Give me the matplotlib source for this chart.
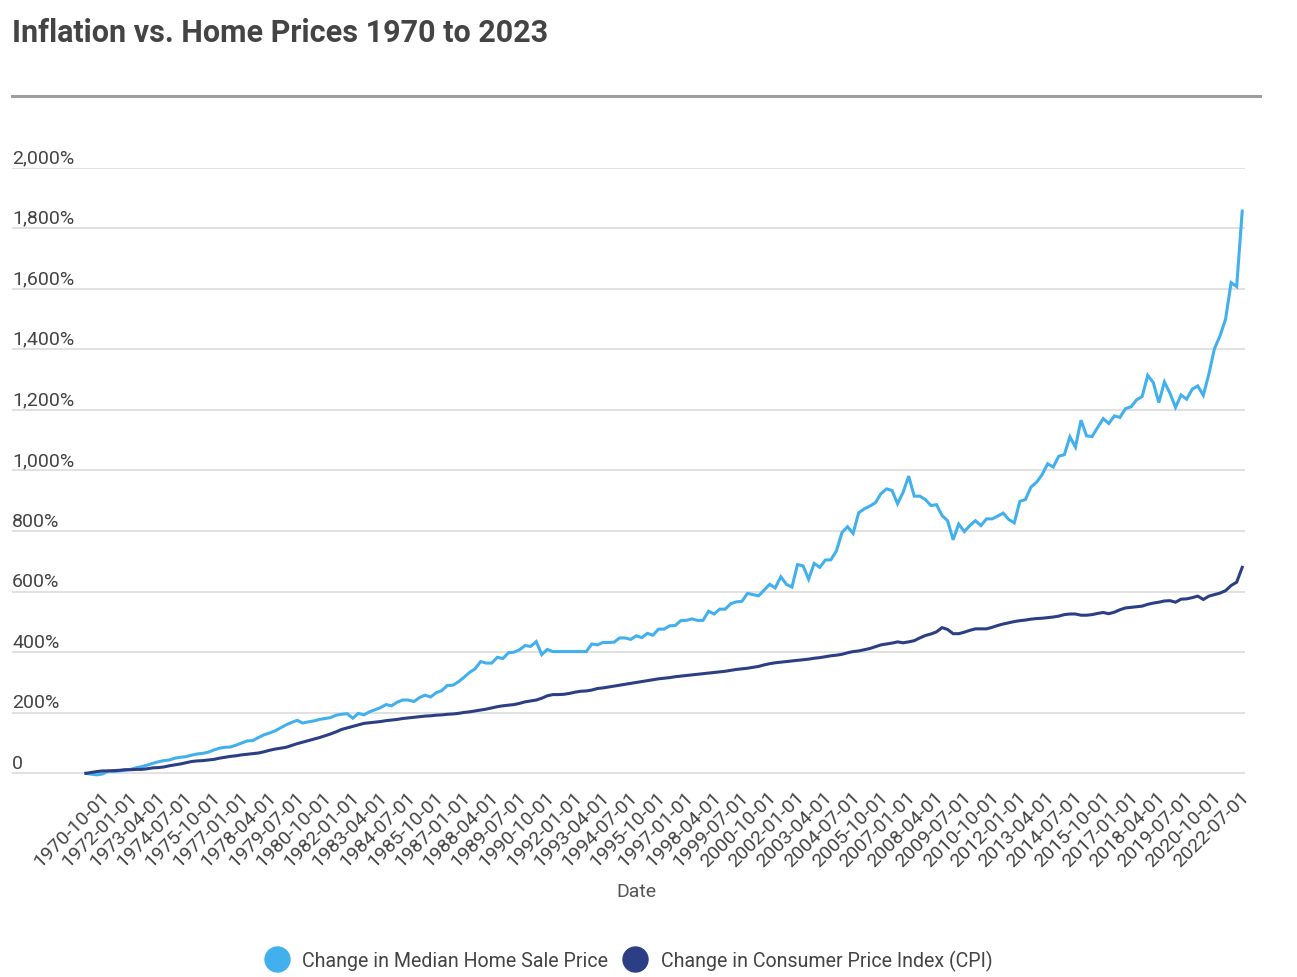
import matplotlib
matplotlib.use("Agg")
import matplotlib.pyplot as plt
from matplotlib.lines import Line2D
from matplotlib import transforms
import numpy as np

plt.rcParams['font.family'] = ['Roboto', 'DejaVu Sans']

# ---------------- data (percent change since 1970) ----------------
home_change = [
    0, -3, -5, -2, 8, 6, 8, 10, 13, 18,
    22, 27, 33, 38, 42, 44, 50, 53, 55, 60,
    64, 66, 70, 77, 83, 86, 87, 93, 100, 107,
    108, 118, 127, 133, 140, 150, 160, 168, 175, 166,
    170, 173, 178, 181, 184, 192, 195, 197, 182, 198,
    193, 203, 210, 217, 227, 223, 235, 242, 242, 237,
    250, 258, 252, 266, 273, 290, 291, 302, 317, 333,
    345, 369, 364, 364, 383, 379, 398, 400, 408, 422,
    419, 435, 392, 409, 402, 402, 402, 402, 402, 402,
    402, 427, 424, 432, 432, 433, 447, 447, 442, 454,
    448, 462, 456, 476, 476, 487, 488, 504, 505, 510,
    505, 505, 535, 526, 542, 542, 560, 566, 568, 594,
    590, 586, 605, 624, 612, 649, 624, 615, 689, 685,
    641, 693, 680, 704, 705, 734, 795, 814, 792, 860,
    873, 882, 893, 923, 939, 934, 890, 928, 981, 915,
    915, 904, 884, 887, 851, 834, 771, 823, 798, 818,
    834, 818, 840, 840, 849, 859, 838, 827, 898, 904,
    945, 961, 986, 1022, 1011, 1047, 1052, 1111, 1077, 1166,
    1114, 1112, 1142, 1171, 1155, 1180, 1175, 1204, 1210, 1233,
    1244, 1314, 1290, 1224, 1292, 1255, 1208, 1249, 1235, 1268,
    1279, 1248, 1318, 1402, 1444, 1499, 1620, 1607, 1856,
]

cpi_change = [
    0, 3, 6, 8, 8, 9, 10, 12, 12, 13,
    13, 15, 18, 19, 21, 25, 28, 31, 35, 39,
    41, 42, 44, 46, 50, 53, 56, 58, 61, 63,
    65, 67, 71, 76, 80, 83, 86, 92, 98, 103,
    108, 113, 118, 124, 130, 137, 145, 150, 155, 160,
    165, 167, 169, 171, 174, 176, 178, 181, 183, 185,
    187, 189, 190, 192, 193, 195, 196, 198, 201, 203,
    206, 209, 212, 216, 220, 223, 225, 227, 231, 236,
    239, 242, 248, 256, 260, 260, 261, 264, 268, 271,
    272, 275, 280, 282, 285, 288, 291, 294, 297, 300,
    303, 306, 309, 312, 314, 316, 319, 321, 323, 325,
    327, 329, 331, 333, 335, 337, 340, 343, 345, 347,
    350, 353, 358, 362, 365, 367, 369, 371, 373, 375,
    377, 380, 382, 385, 388, 390, 393, 398, 402, 404,
    408, 412, 418, 424, 427, 430, 434, 431, 434, 438,
    447, 455, 460, 467, 481, 475, 461, 461, 466, 472,
    477, 477, 477, 482, 488, 493, 497, 501, 504, 506,
    509, 511, 512, 514, 516, 519, 524, 526, 526, 522,
    522, 524, 528, 531, 527, 532, 540, 546, 548, 550,
    552, 558, 562, 565, 569, 570, 565, 575, 576, 580,
    585, 574, 585, 590, 595, 603, 620, 631, 680,
]

x_tick_labels = [
    "1970-10-01", "1972-01-01", "1973-04-01", "1974-07-01", "1975-10-01",
    "1977-01-01", "1978-04-01", "1979-07-01", "1980-10-01", "1982-01-01",
    "1983-04-01", "1984-07-01", "1985-10-01", "1987-01-01", "1988-04-01",
    "1989-07-01", "1990-10-01", "1992-01-01", "1993-04-01", "1994-07-01",
    "1995-10-01", "1997-01-01", "1998-04-01", "1999-07-01", "2000-10-01",
    "2002-01-01", "2003-04-01", "2004-07-01", "2005-10-01", "2007-01-01",
    "2008-04-01", "2009-07-01", "2010-10-01", "2012-01-01", "2013-04-01",
    "2014-07-01", "2015-10-01", "2017-01-01", "2018-04-01", "2019-07-01",
    "2020-10-01", "2022-07-01",
]
y_tick_values = [0, 200, 400, 600, 800, 1000, 1200, 1400, 1600, 1800, 2000]
y_tick_labels = ["0", "200%", "400%", "600%", "800%", "1,000%", "1,200%",
                 "1,400%", "1,600%", "1,800%", "2,000%"]
series_names = ["Change in Median Home Sale Price",
                "Change in Consumer Price Index (CPI)"]

# ---------------- styling ----------------
LIGHT = "#43b0ee"
DARK = "#2c3f84"
TEXT = "#444444"
GRID = "#dedede"

W, H = 1297, 978
fig = plt.figure(figsize=(W / 100, H / 100), dpi=100)

# axes placement in pixels
ax_left, ax_right = 12, 1245
y_bottom_px, y_top_px = 780.4, 168.5
ax = fig.add_axes([ax_left / W, 1 - y_bottom_px / H,
                   (ax_right - ax_left) / W, (y_bottom_px - y_top_px) / H])

x = np.arange(len(home_change))
ax.plot(x, home_change, color=LIGHT, lw=2.2, solid_joinstyle='miter', zorder=3)
ax.plot(x, cpi_change, color=DARK, lw=2.2, solid_joinstyle='miter', zorder=4)

ax.set_xlim(-13.3, 208.5)
ax.set_ylim(-20, 2000)

for s in ax.spines.values():
    s.set_visible(False)

ax.set_yticks(y_tick_values)
ax.yaxis.grid(True, color=GRID, lw=1.3)
ax.set_axisbelow(True)
ax.tick_params(axis='y', length=0, labelleft=False)

off = transforms.offset_copy(ax.get_yaxis_transform(), fig=fig, x=0, y=1.5, units='dots')
for v, lab in zip(y_tick_values, y_tick_labels):
    ax.text(0, v, lab, transform=off, ha='left', va='bottom',
            fontsize=14, color=TEXT)

tick_pos = [3 + 5 * k for k in range(len(x_tick_labels))]
ax.set_xticks(tick_pos)
ax.set_xticklabels(x_tick_labels, rotation=45, ha='right', va='center',
                   rotation_mode='anchor')
ax.tick_params(axis='x', length=0, pad=10.5, labelsize=14, labelcolor=TEXT)
shift = transforms.ScaledTranslation(4 / 100, 0, fig.dpi_scale_trans)
for lbl in ax.get_xticklabels():
    lbl.set_transform(lbl.get_transform() + shift)

# title + rule
fig.text(12 / W, 1 - 33 / H, "Inflation vs. Home Prices 1970 to 2023",
         ha='left', va='center', fontsize=22, fontweight='bold', color=TEXT)
fig.add_artist(Line2D([12 / W, 1260 / W], [1 - 97 / H, 1 - 97 / H],
                      transform=fig.transFigure, color="#9e9e9e", lw=2.2))

# axis title
fig.text(636 / W, 1 - 892 / H, "Date", ha='center', va='center',
         fontsize=14, color="#555555")

# legend
handles = [Line2D([], [], ls='none', marker='o', markersize=18,
                  markerfacecolor=c, markeredgecolor=c)
           for c in (LIGHT, DARK)]
fig.legend(handles, series_names, loc='center', ncol=2, frameon=False,
           bbox_to_anchor=(629.6 / W, 1 - 961 / H), fontsize=14.1,
           handlelength=1.0, handletextpad=0.8, columnspacing=0.9,
           borderpad=0, labelcolor=TEXT)

fig.savefig("out.png", dpi=100)
